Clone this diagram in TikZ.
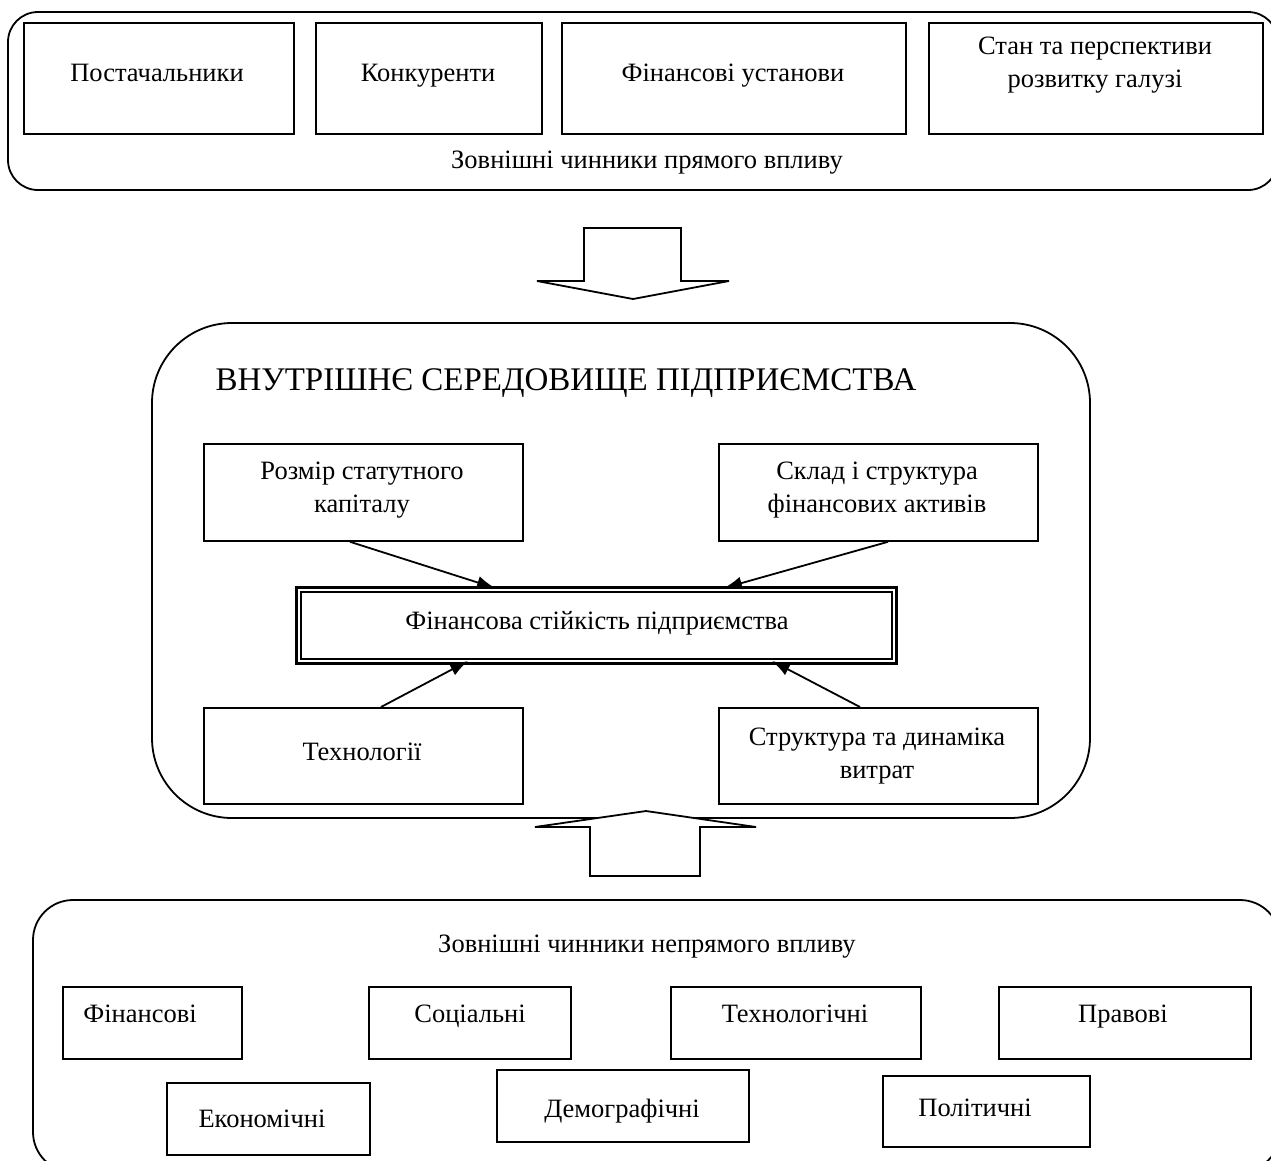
\documentclass[tikz,border=0pt]{standalone}
\usepackage{fontspec}
\setmainfont{Liberation Serif}
\usetikzlibrary{arrows.meta,calc}
\begin{document}
\begin{tikzpicture}[x=1pt,y=-1pt,
  ln/.style={line width=1.8pt},
  box/.style={draw,ln,rectangle,inner sep=0pt,anchor=north west},
  txt/.style={font=\fontsize{26.5}{33}\selectfont,align=center,inner sep=0pt,anchor=base},
  big/.style={font=\fontsize{33}{38}\selectfont,inner sep=0pt,anchor=base},
  arr/.style={ln,-{Latex[length=18pt,width=13pt]}},
  blk/.style={draw,ln,fill=white,line join=miter}
]
\useasboundingbox (0,0) rectangle (1271,1160);
\clip (0,0) rectangle (1271,1160);
\fill[white] (0,0) rectangle (1271,1160);

% ---- top group
\draw[ln,rounded corners=30pt] (8,12) rectangle (1278,190);
\node[box,minimum width=270pt,minimum height=111pt] (post) at (23,22) {};
\node[box,minimum width=226pt,minimum height=111pt] (konk) at (315,22) {};
\node[box,minimum width=344pt,minimum height=111pt] (fin) at (561,22) {};
\node[box,minimum width=334pt,minimum height=111pt] (stan) at (928,22) {};
\node[txt] (tpost) at (157,81) {Постачальники};
\node[txt] (tkonk) at (428,81) {Конкуренти};
\node[txt] (tfin) at (733,81) {Фінансові установи};
\node[txt] (tstan) at (1095,87) {Стан та перспективи\\розвитку галузі};
\node[txt] (tdir) at (647,168) {Зовнішні чинники прямого впливу};

% ---- down block arrow
\draw[blk] (584,228) -- (681,228) -- (681,281) -- (729,281) -- (633,299) -- (537,281) -- (584,281) -- cycle;

% ---- middle group
\draw[ln,rounded corners=80pt] (152,323) rectangle (1090,818);
\node[big] (title) at (566,390) {ВНУТРІШНЄ СЕРЕДОВИЩЕ ПІДПРИЄМСТВА};
\node[box,minimum width=319pt,minimum height=97pt] (rozm) at (203,443) {};
\node[box,minimum width=319pt,minimum height=97pt] (sklad) at (718,443) {};
\node[box,minimum width=319pt,minimum height=96pt] (tech) at (203,707) {};
\node[box,minimum width=319pt,minimum height=96pt] (strukt) at (718,707) {};
\node[txt] (trozm) at (362,512) {Розмір статутного\\капіталу};
\node[txt] (tsklad) at (877,512) {Склад і структура\\фінансових активів};
\node[txt] (ttech) at (362,760) {Технології};
\node[txt] (tstrukt) at (877,778) {Структура та динаміка\\витрат};

% double box
\node[draw,line width=3pt,inner sep=0pt,anchor=north west,minimum width=600pt,minimum height=76pt] (fs) at (295,586) {};
\draw[line width=1.5pt] ($(fs.north west)+(6,6)$) rectangle ($(fs.south east)+(-6,-6)$);
\node[txt] (tfs) at (597,629) {Фінансова стійкість підприємства};

\coordinate (a1) at (495,588);
\coordinate (a2) at (724,588);
\coordinate (a3) at (468,661);
\coordinate (a4) at (772,661);
\draw[arr] ($(rozm.south west)+(147,0)$) -- (a1);
\draw[arr] ($(sklad.south west)+(170,0)$) -- (a2);
\draw[arr] ($(tech.north west)+(178,0)$) -- (a3);
\draw[arr] ($(strukt.north west)+(142,0)$) -- (a4);

% ---- up block arrow
\draw[blk] (590,876) -- (700,876) -- (700,827) -- (756,827) -- (646,811) -- (535,827) -- (590,827) -- cycle;

% ---- bottom group
\draw[ln,rounded corners=40pt] (33,900) rectangle (1280,1172);
\node[txt] (tind) at (647,952) {Зовнішні чинники непрямого впливу};
\node[box,minimum width=179pt,minimum height=72pt] (bfin) at (62,986) {};
\node[box,minimum width=202pt,minimum height=72pt] (bsoc) at (368,986) {};
\node[box,minimum width=250pt,minimum height=72pt] (btech) at (670,986) {};
\node[box,minimum width=252pt,minimum height=72pt] (bprav) at (998,986) {};
\node[box,minimum width=203pt,minimum height=72pt] (bekon) at (166,1082) {};
\node[box,minimum width=252pt,minimum height=72pt] (bdem) at (496,1069) {};
\node[box,minimum width=207pt,minimum height=71pt] (bpol) at (882,1075) {};
\node[txt] (tbfin) at (140,1022) {Фінансові};
\node[txt] (tbsoc) at (470,1022) {Соціальні};
\node[txt] (tbtech) at (795,1022) {Технологічні};
\node[txt] (tbprav) at (1123,1022) {Правові};
\node[txt] (tbekon) at (262,1127) {Економічні};
\node[txt] (tbdem) at (622,1117) {Демографічні};
\node[txt] (tbpol) at (975,1116) {Політичні};
\end{tikzpicture}
\end{document}
